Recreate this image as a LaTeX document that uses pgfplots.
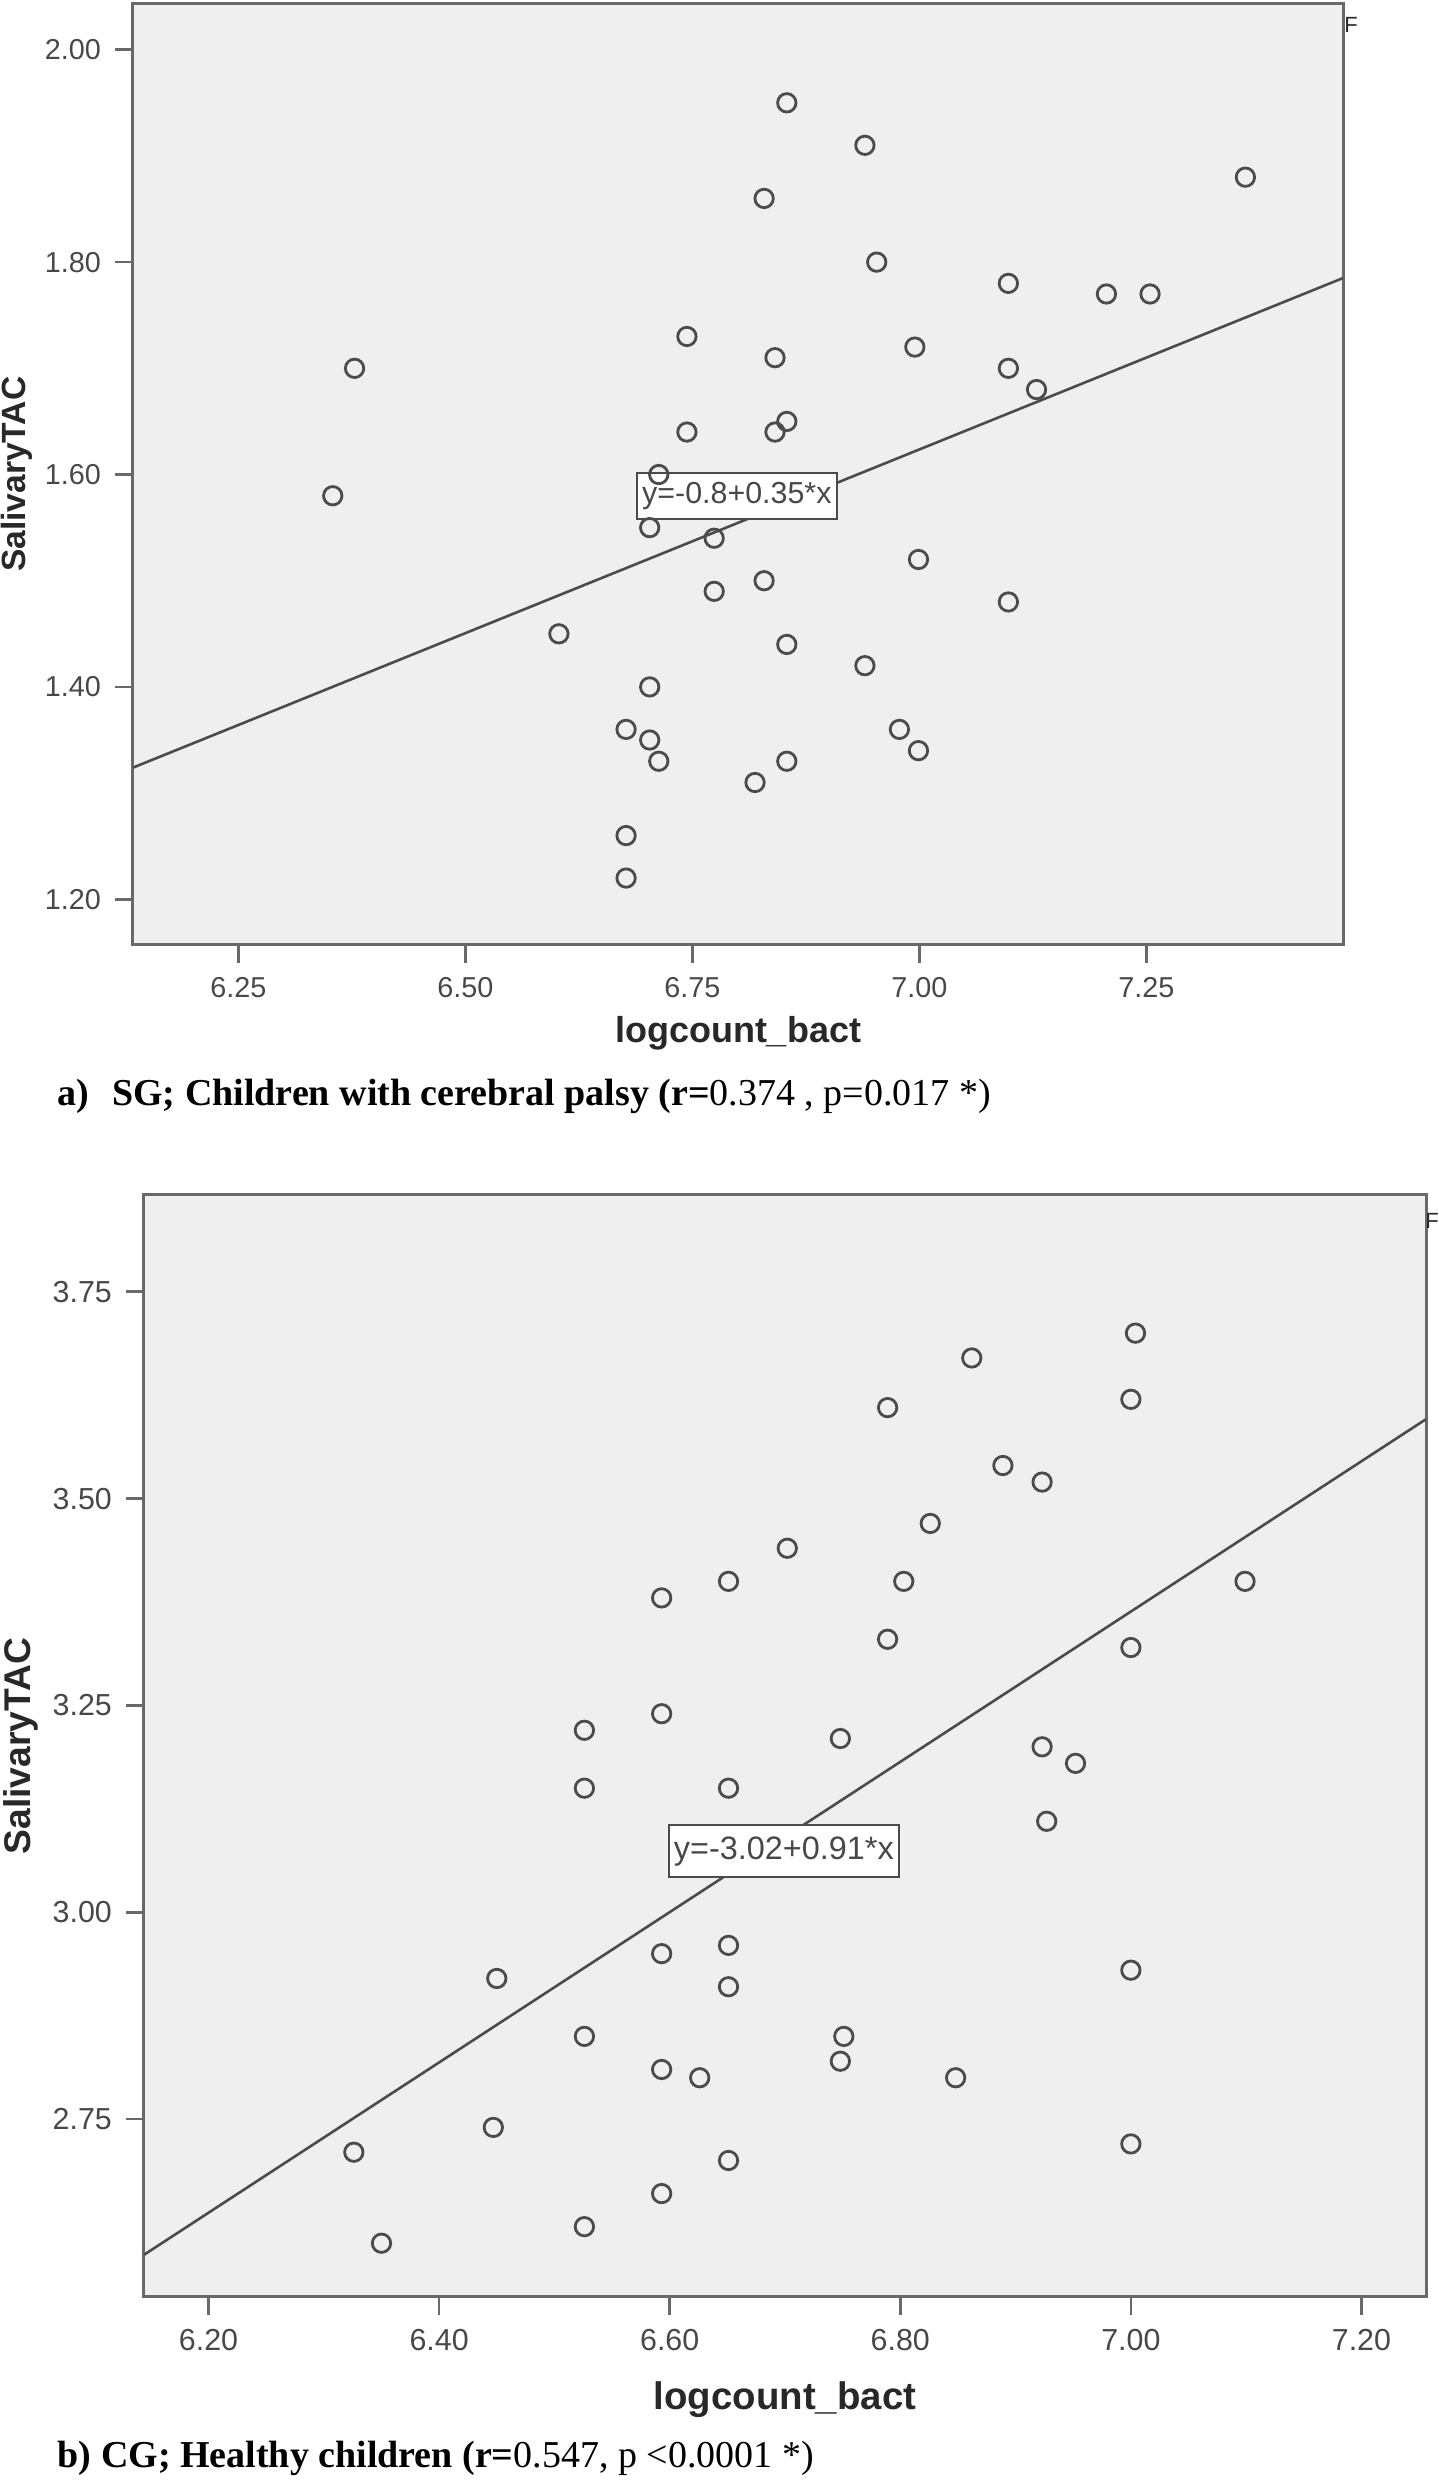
\documentclass[border=0pt]{standalone}
\usepackage{fontspec}
\setmainfont{Liberation Serif}
\setsansfont{Liberation Sans}
\usepackage{pgfplots}
\pgfplotsset{compat=1.18}
\definecolor{bgc}{RGB}{238,239,238}
\definecolor{fr}{RGB}{105,105,105}
\definecolor{mk}{RGB}{75,75,75}
\definecolor{tx}{RGB}{40,40,40}

\pgfplotstableread{
x y
6.854 1.95
6.940 1.91
7.359 1.88
6.829 1.86
6.953 1.80
7.098 1.78
7.206 1.77
7.254 1.77
6.744 1.73
6.995 1.72
6.841 1.71
6.378 1.70
7.098 1.70
7.129 1.68
6.854 1.65
6.744 1.64
6.841 1.64
6.713 1.60
6.354 1.58
6.703 1.55
6.774 1.54
6.999 1.52
6.829 1.50
6.774 1.49
7.098 1.48
6.603 1.45
6.854 1.44
6.940 1.42
6.703 1.40
6.677 1.36
6.978 1.36
6.703 1.35
6.999 1.34
6.713 1.33
6.854 1.33
6.819 1.31
6.677 1.26
6.677 1.22
}\dataA

\pgfplotstableread{
x y
7.004 3.70
6.862 3.67
7.000 3.62
6.789 3.61
6.889 3.54
6.923 3.52
6.826 3.47
6.702 3.44
6.651 3.40
6.803 3.40
7.099 3.40
6.593 3.38
6.789 3.33
7.000 3.32
6.593 3.24
6.526 3.22
6.748 3.21
6.923 3.20
6.952 3.18
6.526 3.15
6.651 3.15
6.927 3.11
6.651 2.96
6.593 2.95
7.000 2.93
6.450 2.92
6.651 2.91
6.526 2.85
6.751 2.85
6.748 2.82
6.593 2.81
6.626 2.80
6.848 2.80
6.447 2.74
7.000 2.72
6.326 2.71
6.651 2.70
6.593 2.66
6.526 2.62
6.350 2.60
}\dataB

\pgfplotsset{spss/.style={
  scale only axis,
  axis background/.style={fill=bgc},
  axis line style={draw=fr, line width=0.75pt},
  tick align=outside, major tick length=4.5pt,
  tick style={draw=fr, line width=0.65pt},
  xtick pos=bottom, ytick pos=left,
  minor tick num=0,
  /pgf/number format/assume math mode=true,
  /pgf/number format/fixed,
  /pgf/number format/fixed zerofill,
  /pgf/number format/precision=2,
  ticklabel style={text=tx!85},
  scaled ticks=false,
}}

\begin{document}
\begin{tikzpicture}
% Panel a
\begin{axis}[spss,
  at={(33.25pt,383.75pt)}, anchor=south west,
  width=302.5pt, height=235.375pt,
  xmin=6.134, xmax=7.4665, ymin=1.157, ymax=2.0436,
  xtick={6.25,6.5,6.75,7.0,7.25},
  ytick={1.2,1.4,1.6,1.8,2.0},
  ticklabel style={font=\sffamily\fontsize{7.2}{8}\selectfont},
  xlabel={logcount\_bact},
  ylabel={SalivaryTAC},
  xlabel style={at={(axis description cs:0.5,-0.1041)}, anchor=base, font=\sffamily\bfseries\fontsize{9}{10}\selectfont, text=tx},
  ylabel style={at={(axis description cs:-0.0959,0.5)}, anchor=center, rotate=0, font=\sffamily\bfseries\fontsize{8.4}{10}\selectfont, text=tx},
]
\addplot[draw=mk, line width=0.65pt] coordinates {(6.134,1.324) (7.4665,1.785)};
\addplot[only marks, mark=o, mark size=2.3pt, mark options={draw=mk, line width=0.7pt}] table[x=x,y=y] {\dataA};
\node[draw=mk, fill=white, line width=0.55pt, font=\sffamily\fontsize{7.6}{9}\selectfont, text=tx!85, inner xsep=1.3pt, inner ysep=2.3pt] at (axis cs:6.799,1.58) {y=-0.8+0.35*x};
\end{axis}

% Panel b
\begin{axis}[spss,
  at={(36pt,45.75pt)}, anchor=south west,
  width=320.5pt, height=275.5pt,
  xmin=6.144, xmax=7.256, ymin=2.535, ymax=3.867,
  xtick={6.2,6.4,6.6,6.8,7.0,7.2},
  ytick={2.75,3.0,3.25,3.5,3.75},
  ticklabel style={font=\sffamily\fontsize{7.6}{8.5}\selectfont},
  xlabel={logcount\_bact},
  ylabel={SalivaryTAC},
  xlabel style={at={(axis description cs:0.5,-0.1025)}, anchor=base, font=\sffamily\bfseries\fontsize{9.6}{11}\selectfont, text=tx},
  ylabel style={at={(axis description cs:-0.0959,0.5)}, anchor=center, rotate=0, font=\sffamily\bfseries\fontsize{9.3}{11}\selectfont, text=tx},
]
\addplot[draw=mk, line width=0.65pt] coordinates {(6.144,2.586) (7.256,3.596)};
\addplot[only marks, mark=o, mark size=2.3pt, mark options={draw=mk, line width=0.7pt}] table[x=x,y=y] {\dataB};
\node[draw=mk, fill=white, line width=0.55pt, font=\sffamily\fontsize{8.1}{9.5}\selectfont, text=tx!85, inner xsep=1.3pt, inner ysep=2.8pt] at (axis cs:6.699,3.074) {y=-3.02+0.91*x};
\end{axis}

% stray glyphs and captions
\node[font=\sffamily\fontsize{5.5}{6}\selectfont, text=tx, inner sep=0pt] at (337.75pt,613.75pt) {F};
\node[font=\sffamily\fontsize{5.5}{6}\selectfont, text=tx, inner sep=0pt] at (358pt,314.75pt) {F};
\node[anchor=base west, inner sep=0pt, font=\fontsize{9.5}{11}\selectfont] at (14.25pt,343.5pt) {\textbf{a)\hspace{0.6em}SG; Children with cerebral palsy (r=}0.374 , p=0.017 *)};
\node[anchor=base west, inner sep=0pt, font=\fontsize{9.5}{11}\selectfont] at (14.25pt,3pt) {\textbf{b) CG; Healthy children (r=}0.547, p <0.0001 *)};

\pgfresetboundingbox
\useasboundingbox (0,0) rectangle (359.5pt,620pt);
\end{tikzpicture}
\end{document}
